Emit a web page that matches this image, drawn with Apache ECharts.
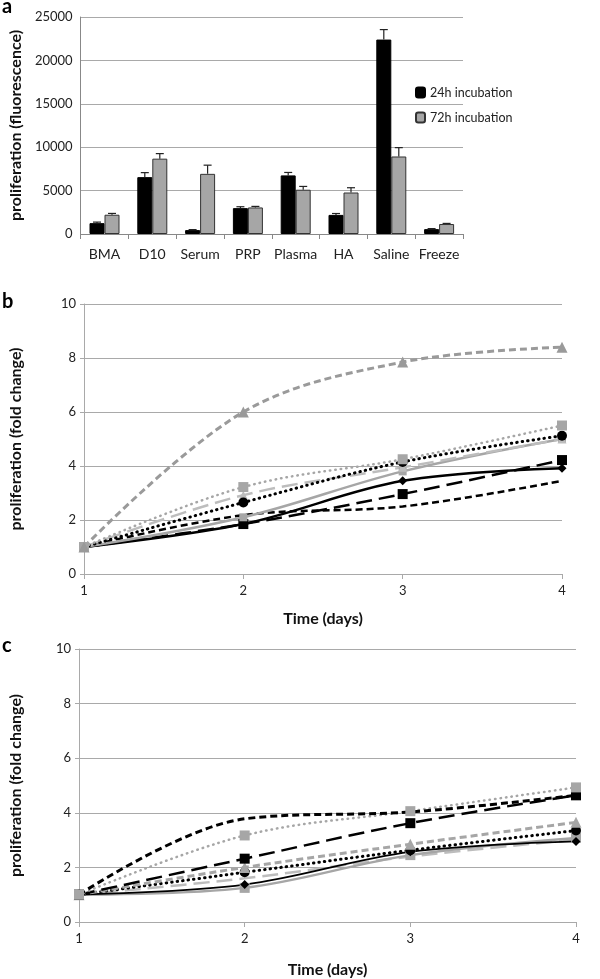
<!DOCTYPE html>
<html><head><meta charset="utf-8">
<script src="https://cdn.jsdelivr.net/npm/echarts@6/dist/echarts.min.js"></script>
<style>html,body{margin:0;padding:0;background:#fff}#c{width:600px;height:979px}</style>
</head><body><div id="c"></div>
<script>
// Panel a
const categories = ['BMA','D10','Serum','PRP','Plasma','HA','Saline','Freeze'];
const values24h = [1250, 6550, 450, 2980, 6750, 2200, 22400, 560];
const errors24h = [120, 520, 60, 160, 340, 160, 1150, 60];
const values72h = [2220, 8680, 6930, 3060, 5100, 4780, 8930, 1150];
const errors72h = [150, 580, 1000, 120, 380, 550, 1020, 70];
const yTicksA = [0, 25000, 5000];
// Panels b and c
const days = [1, 2, 3, 4];
const b_grayDashTri   = [1, 6.0, 7.85, 8.4];
const b_grayDotSq     = [1, 3.22, 4.25, 5.5];
const b_blackDotCirc  = [1, 2.65, 4.15, 5.12];
const b_graySolid     = [1, 2.1, 3.8, 5.0];
const b_grayLongDash  = [1, 2.92, 3.95, 5.0];
const b_blackSolidDia = [1, 1.85, 3.45, 3.92];
const b_blackLongSq   = [1, 1.85, 2.96, 4.22];
const b_blackShortDash= [1, 2.18, 2.5, 3.45];

const c_blackShortDash= [1, 3.78, 4.03, 4.64];
const c_grayDotSq     = [1, 3.17, 4.06, 4.93];
const c_blackLongSq   = [1, 2.32, 3.62, 4.64];
const c_grayDashTri   = [1, 2.0, 2.85, 3.65];
const c_blackDotCirc  = [1, 1.82, 2.63, 3.35];
const c_blackSolidDia = [1, 1.37, 2.57, 2.95];
const c_graySolidSq   = [1, 1.25, 2.45, 3.08];
const c_grayLongDash  = [1, 1.6, 2.4, 3.02];
const yTicksBC = [0, 10, 2];

const FONT = 'Lato';
const GRAY = '#a6a6a6';
const GRID = '#a9a9a9';

function pts(arr){ return days.map((d,i)=>[d, arr[i]]); }

function errSeries(vals, errs, side){
  return {
    type:'custom', xAxisIndex:0, yAxisIndex:0, z:5,
    data: vals.map((v,i)=>[i, v, errs[i]]),
    renderItem(params, api){
      const i = api.value(0), v = api.value(1), e = api.value(2);
      const p1 = api.coord([i, v]), p2 = api.coord([i, v+e]);
      const x = p1[0] + side*7.5;
      const st = {stroke:'#222', lineWidth:1.2};
      return {type:'group', children:[
        {type:'line', shape:{x1:x,y1:p1[1],x2:x,y2:p2[1]}, style:st},
        {type:'line', shape:{x1:x-4,y1:p2[1],x2:x+4,y2:p2[1]}, style:st}
      ]};
    }
  };
}

function lineS(ax, arr, color, type, width, symbol, size, symColor){
  return {
    type:'line', xAxisIndex:ax, yAxisIndex:ax, data:pts(arr), smooth:0.35,
    lineStyle:{color, width, type, cap: Array.isArray(type)&&type[0]<=1 ? 'round':'butt'},
    symbol: symbol || 'none', symbolSize:size||9,
    itemStyle:{color: symColor||color},
    showSymbol: !!symbol, animation:false
  };
}

const DOT = [0.5, 5];
const DOTG = [0.5, 5];
const SHORT = [7, 4];
const LONG = [16, 7];

const titleStyle = {fontFamily:FONT, fontSize:16, fontWeight:'bold', color:'#111'};
const valAxisCommon = {
  axisLabel:{fontFamily:FONT, fontSize:13, color:'#222', formatter:(v)=>String(v)},
  nameTextStyle:titleStyle,
  splitLine:{lineStyle:{color:GRID, width:1}},
};

const chart = echarts.init(document.getElementById('c'));
chart.setOption({
  animation:false,
  textStyle:{fontFamily:FONT},
  graphic:[
    {type:'text', left:2, top:-3, style:{text:'a', font:'bold 20px '+FONT, fill:'#000'}},
    {type:'text', left:2, top:292, style:{text:'b', font:'bold 20px '+FONT, fill:'#000'}},
    {type:'text', left:2, top:636, style:{text:'c', font:'bold 20px '+FONT, fill:'#000'}}
  ],
  legend:{
    left:410, top:81, orient:'vertical', itemGap:12, itemWidth:9, itemHeight:10,
    textStyle:{fontFamily:FONT, fontSize:12.5, color:'#222'},
    data:['24h incubation','72h incubation']
  },
  grid:[
    {left:68, right:137, top:17, height:217},
    {left:77, right:38, top:304, height:270},
    {left:72, right:24, top:649, height:279}
  ],
  xAxis:[
    {type:'category', gridIndex:0, data:categories,
     axisLine:{lineStyle:{color:'#888'}}, axisTick:{show:true, length:5, lineStyle:{color:'#888'}},
     axisLabel:{fontFamily:FONT, fontSize:14, color:'#222', margin:13, interval:0}},
    {type:'value', gridIndex:1, min:1, max:4, interval:1, name:'Time (days)', nameLocation:'middle', nameGap:37,
     nameTextStyle:titleStyle,
     axisLine:{lineStyle:{color:GRID}}, axisTick:{show:true, length:5, lineStyle:{color:GRID}},
     splitLine:{show:false}, axisLabel:{fontFamily:FONT, fontSize:13, color:'#222', margin:10}},
    {type:'value', gridIndex:2, min:1, max:4, interval:1, name:'Time (days)', nameLocation:'middle', nameGap:40,
     nameTextStyle:titleStyle,
     axisLine:{lineStyle:{color:GRID}}, axisTick:{show:true, length:5, lineStyle:{color:GRID}},
     splitLine:{show:false}, axisLabel:{fontFamily:FONT, fontSize:13, color:'#222', margin:10}}
  ],
  yAxis:[
    Object.assign({}, valAxisCommon, {type:'value', gridIndex:0, min:yTicksA[0], max:yTicksA[1], interval:yTicksA[2],
      name:'proliferation (fluorescence)', nameLocation:'middle', nameGap:55,
      axisLine:{show:true, lineStyle:{color:'#888'}}, axisTick:{show:false}}),
    Object.assign({}, valAxisCommon, {type:'value', gridIndex:1, min:yTicksBC[0], max:yTicksBC[1], interval:yTicksBC[2],
      name:'proliferation (fold change)', nameLocation:'middle', nameGap:60,
      axisLine:{show:true, lineStyle:{color:GRID}}, axisTick:{show:true, length:4, lineStyle:{color:GRID}}}),
    Object.assign({}, valAxisCommon, {type:'value', gridIndex:2, min:yTicksBC[0], max:yTicksBC[1], interval:yTicksBC[2],
      name:'proliferation (fold change)', nameLocation:'middle', nameGap:55,
      axisLine:{show:true, lineStyle:{color:GRID}}, axisTick:{show:true, length:4, lineStyle:{color:GRID}}})
  ],
  series:[
    {name:'24h incubation', type:'bar', xAxisIndex:0, yAxisIndex:0, data:values24h, barWidth:15, barGap:'0%',
     itemStyle:{color:'#000', borderColor:'#000', borderWidth:1}},
    {name:'72h incubation', type:'bar', xAxisIndex:0, yAxisIndex:0, data:values72h, barWidth:15, barGap:'0%',
     itemStyle:{color:GRAY, borderColor:'#333', borderWidth:1}},
    errSeries(values24h, errors24h, -1),
    errSeries(values72h, errors72h, 1),

    lineS(1, b_blackShortDash, '#000', SHORT, 2.5, null),
    lineS(1, b_blackLongSq, '#000', LONG, 2.5, 'rect', 10),
    lineS(1, b_blackSolidDia, '#000', 'solid', 2.5, 'diamond', 9),
    lineS(1, b_graySolid, GRAY, 'solid', 2.5, 'rect', 8),
    lineS(1, b_grayLongDash, '#bdbdbd', LONG, 2.5, 'triangle', 9),
    lineS(1, b_blackDotCirc, '#000', DOT, 3, 'circle', 10),
    lineS(1, b_grayDotSq, GRAY, DOTG, 2.5, 'rect', 10),
    lineS(1, b_grayDashTri, '#9a9a9a', SHORT, 3, 'triangle', 11),

    lineS(2, c_grayLongDash, '#bdbdbd', LONG, 2.5, null),
    lineS(2, c_graySolidSq, GRAY, 'solid', 2.5, 'rect', 10),
    lineS(2, c_blackSolidDia, '#000', 'solid', 1.8, 'diamond', 9),
    lineS(2, c_blackDotCirc, '#000', DOT, 3, 'circle', 10),
    lineS(2, c_grayDashTri, GRAY, SHORT, 3, 'triangle', 11),
    lineS(2, c_blackLongSq, '#000', LONG, 2.5, 'rect', 10),
    lineS(2, c_grayDotSq, GRAY, DOTG, 2.5, 'rect', 10),
    lineS(2, c_blackShortDash, '#000', SHORT, 3, null)
  ]
});
</script></body></html>
